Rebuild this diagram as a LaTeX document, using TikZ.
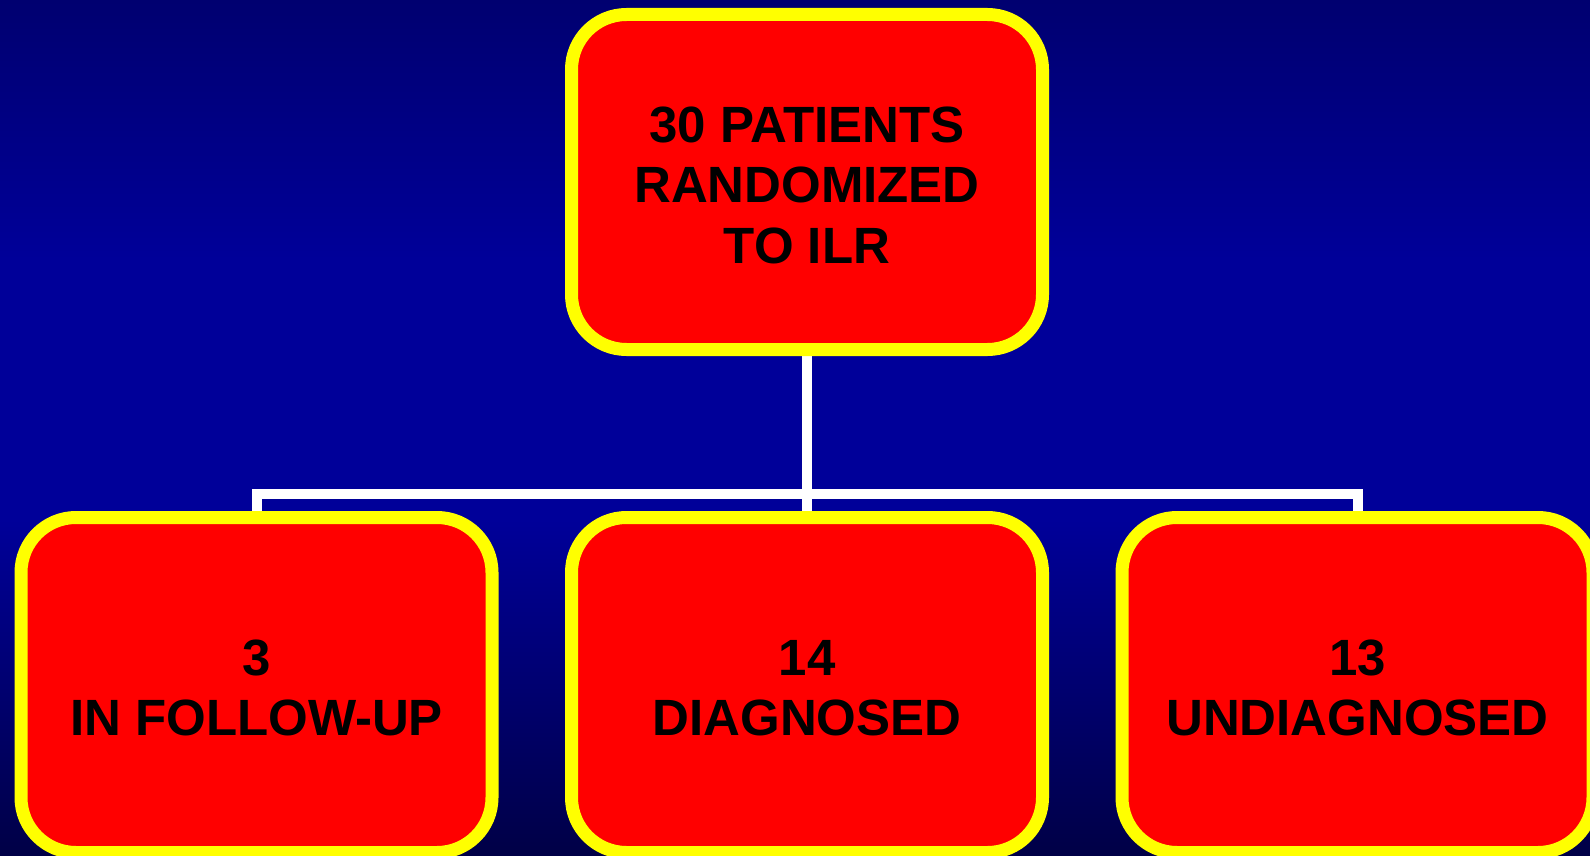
\documentclass[tikz,border=0pt]{standalone}
\usepackage{fontspec}
\setmainfont{Liberation Sans}
\usetikzlibrary{backgrounds}
\definecolor{bgtop}{RGB}{0,0,112}
\definecolor{bgmid}{RGB}{0,0,153}
\definecolor{bgbot}{RGB}{0,0,70}
\definecolor{boxred}{RGB}{255,0,0}
\definecolor{boxyellow}{RGB}{255,255,0}
\tikzset{
  box/.style={draw=boxyellow, line width=13pt, fill=boxred, rounded corners=55pt,
    minimum width=471pt, minimum height=335pt, inner sep=0pt},
  boxtext/.style={inner sep=0pt, align=center, yshift=-3pt,
    font=\bfseries\fontsize{51}{60.5}\selectfont, text=black},
  link/.style={draw=white, line width=10pt, line join=miter, line cap=butt}
}
\begin{document}
\begin{tikzpicture}[x=1pt,y=-1pt]
\useasboundingbox (0,0) rectangle (1590,856);
\node[box] (top) at (807,182) {};
\node[box] (left) at (256.5,685) {};
\node[box] (mid) at (807,685) {};
\node[box] (right) at (1357.5,685) {};
\node[boxtext] (toptxt) at (top.center) {30 PATIENTS\\RANDOMIZED\\TO ILR};
\node[boxtext] (lefttxt) at (left.center) {3\\IN FOLLOW-UP};
\node[boxtext] (midtxt) at (mid.center) {14\\DIAGNOSED};
\node[boxtext] (righttxt) at (right.center) {13\\UNDIAGNOSED};
\coordinate (bar) at (807,494);
\begin{scope}[on background layer]
  \shade[top color=bgtop,bottom color=bgmid] (0,0) rectangle (1590,260);
  \fill[bgmid] (0,259) rectangle (1590,521);
  \shade[top color=bgmid,bottom color=bgbot] (0,520) rectangle (1590,856);
  \draw[link] (top.south) -- (mid.north);
  \draw[link] (left.north) -- (left.north |- bar) -- (right.north |- bar) -- (right.north);
\end{scope}
\end{tikzpicture}
\end{document}
